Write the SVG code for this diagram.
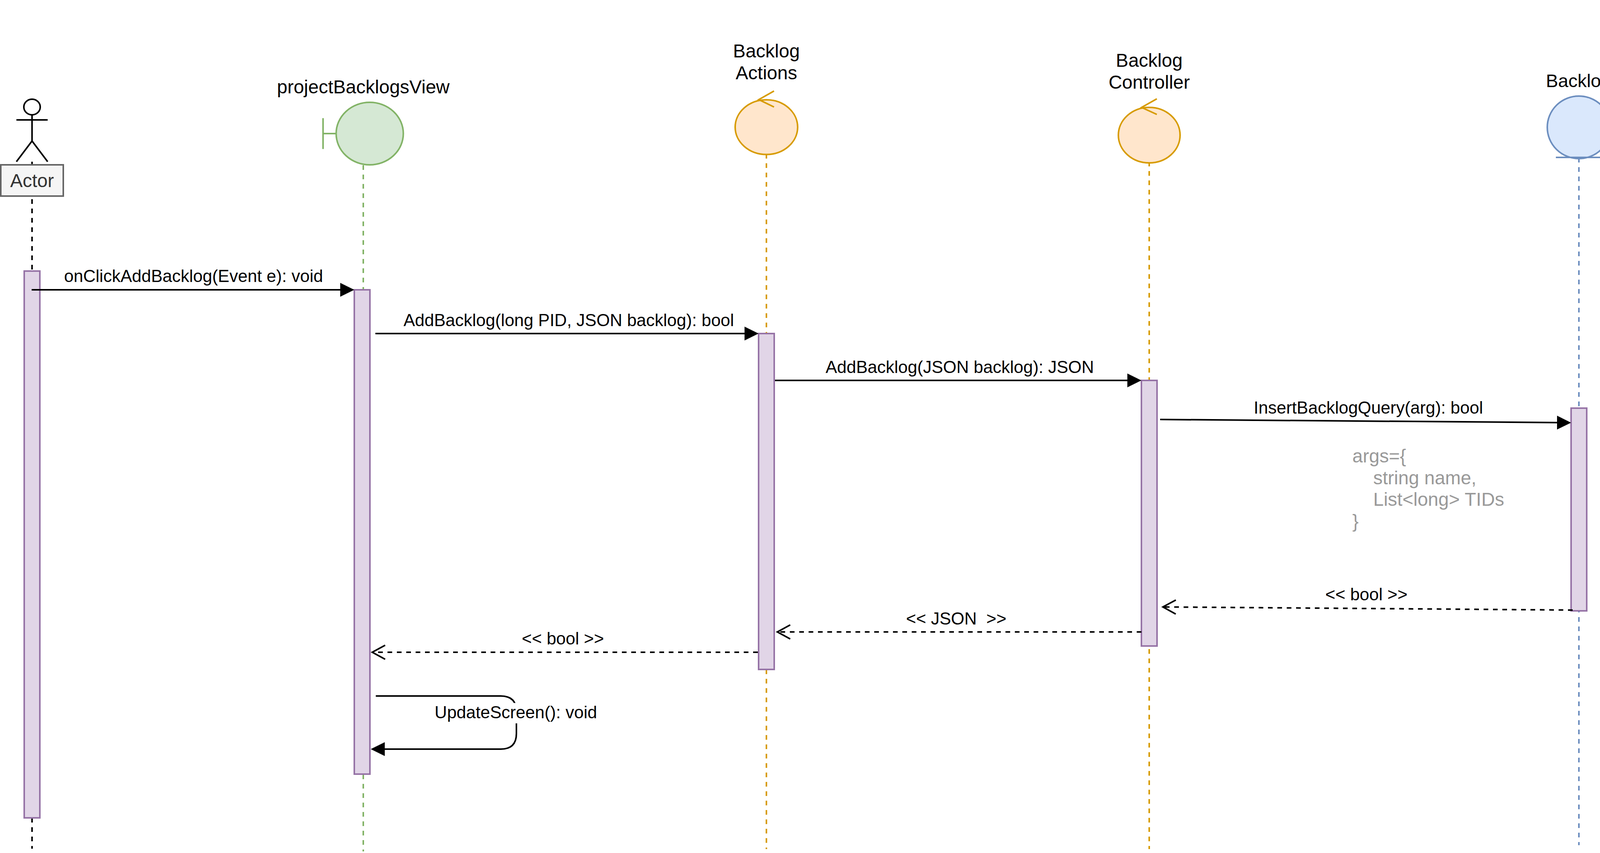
<svg xmlns="http://www.w3.org/2000/svg" width="4128" height="2184" viewBox="0 0 4128 2184">
<style>
text{font-family:"Liberation Sans",Arial,sans-serif;white-space:pre}
.n{font-size:48px;fill:#000;text-anchor:middle}
.m{font-size:44px;fill:#000;text-anchor:middle}
.ll{fill:none;stroke-width:4;stroke-dasharray:12 12}
.s{stroke-width:4}
.act{fill:#E1D5E7;stroke:#9673A6;stroke-width:4}
.g{fill:#D5E8D4;stroke:#82B366}
.o{fill:#FFE6CC;stroke:#D79B00}
.b{fill:#DAE8FC;stroke:#6C8EBF}
.msg{fill:none;stroke:#000;stroke-width:4}
.ret{fill:none;stroke:#000;stroke-width:4;stroke-dasharray:12 12}
</style>
<defs>
<marker id="tri" markerUnits="userSpaceOnUse" markerWidth="36" markerHeight="36" viewBox="0 0 34 34" refX="1" refY="17" orient="auto"><path d="M0 0.2L34 17L0 33.8z" fill="#000"/></marker>
<marker id="open" markerUnits="userSpaceOnUse" markerWidth="46" markerHeight="46" viewBox="-4 -5 46 46" refX="33" refY="18" orient="auto" overflow="visible"><path d="M0 0L33 18L0 36" fill="none" stroke="#000" stroke-width="4"/></marker>
</defs>
<rect width="4128" height="2184" fill="#fff"/>

<g id="actor">
<line class="ll" x1="82" y1="414" x2="82" y2="2173" stroke="#000"/>
<ellipse cx="82" cy="274" rx="21" ry="20" fill="#fff" stroke="#000" stroke-width="4"/>
<path d="M82 294V361M42 307H122M82 361L42 414M82 361L122 414" fill="none" stroke="#000" stroke-width="4"/>
<rect x="2" y="422" width="160" height="80" fill="#F5F5F5" stroke="#666" stroke-width="4"/>
<text class="n" x="82" y="479" style="fill:#333">Actor</text>
</g>

<g id="projectBacklogsView">
<line class="ll" x1="930" y1="423" x2="930" y2="2180" stroke="#82B366"/>
<text class="n" x="930" y="239">projectBacklogsView</text>
<path d="M827 302.6V381.4M827 342H860" fill="none" stroke="#82B366" stroke-width="4"/>
<ellipse class="g s" cx="946.5" cy="342" rx="86" ry="80"/>
</g>

<g id="backlogActions">
<line class="ll" x1="1962" y1="394" x2="1962" y2="2174" stroke="#D79B00"/>
<text class="n" x="1962" y="147">Backlog</text>
<text class="n" x="1962" y="203">Actions</text>
<ellipse class="o s" cx="1962" cy="325.5" rx="80" ry="70"/>
<path d="M1981.5 233L1942.5 255L1981.5 274" fill="none" stroke="#D79B00" stroke-width="4"/>
</g>

<g id="backlogController">
<line class="ll" x1="2942" y1="414" x2="2942" y2="2174" stroke="#D79B00"/>
<text class="n" x="2942" y="171">Backlog</text>
<text class="n" x="2942" y="227">Controller</text>
<ellipse class="o s" cx="2942" cy="346" rx="79" ry="71"/>
<path d="M2961.5 253L2922.5 275L2961.5 293" fill="none" stroke="#D79B00" stroke-width="4"/>
</g>

<g id="backlog">
<line class="ll" x1="4042" y1="404" x2="4042" y2="2164" stroke="#6C8EBF"/>
<text class="n" x="4041" y="223" style="font-size:47px">Backlog</text>
<ellipse class="b s" cx="4042" cy="326" rx="81" ry="80"/>
<path d="M3983 403H4102" fill="none" stroke="#6C8EBF" stroke-width="4"/>
</g>

<g id="activation-actor"><rect class="act" x="62" y="694" width="40" height="1400"/></g>
<g id="activation-view"><rect class="act" x="907" y="742" width="40" height="1240"/></g>
<g id="activation-actions"><rect class="act" x="1942" y="854" width="40" height="860"/></g>
<g id="activation-controller"><rect class="act" x="2922" y="974" width="40" height="680"/></g>
<g id="activation-backlog"><rect class="act" x="4022" y="1045" width="40" height="519"/></g>

<g id="args">
<text font-size="48" fill="#999999"><tspan x="3462" y="1184">args={</tspan><tspan x="3515.5" y="1239.5">string name,</tspan><tspan x="3515.5" y="1295">List&lt;long&gt; TIDs</tspan><tspan x="3462" y="1350.5">}</tspan></text>
</g>

<g id="connectors">
<path class="msg" d="M81 742H872" marker-end="url(#tri)"/>
<text class="m" x="495.5" y="722">onClickAddBacklog(Event e): void</text>
<path class="msg" d="M961 854H1907" marker-end="url(#tri)"/>
<text class="m" x="1456" y="835">AddBacklog(long PID, JSON backlog): bool</text>
<path class="msg" d="M1984 974H2887" marker-end="url(#tri)"/>
<text class="m" x="2457" y="955">AddBacklog(JSON backlog): JSON</text>
<path class="msg" d="M2970 1074L3987 1082" marker-end="url(#tri)"/>
<text class="m" x="3503" y="1059">InsertBacklogQuery(arg): bool</text>
<path class="ret" d="M4026 1562L2977 1554" marker-end="url(#open)"/>
<text class="m" x="3498" y="1537">&lt;&lt; bool &gt;&gt;</text>
<path class="ret" d="M2922 1618H1990" marker-end="url(#open)"/>
<text class="m" x="2448" y="1599">&lt;&lt; JSON  &gt;&gt;</text>
<path class="ret" d="M1940 1670H953" marker-end="url(#open)"/>
<text class="m" x="1441" y="1650">&lt;&lt; bool &gt;&gt;</text>
<path class="msg" d="M962 1782H1282Q1322 1782 1322 1822V1878Q1322 1918 1282 1918H984" marker-end="url(#tri)"/>
<rect x="1112" y="1800" width="417" height="52" fill="#fff"/>
<text class="m" x="1320.5" y="1839">UpdateScreen(): void</text>
</g>
</svg>
